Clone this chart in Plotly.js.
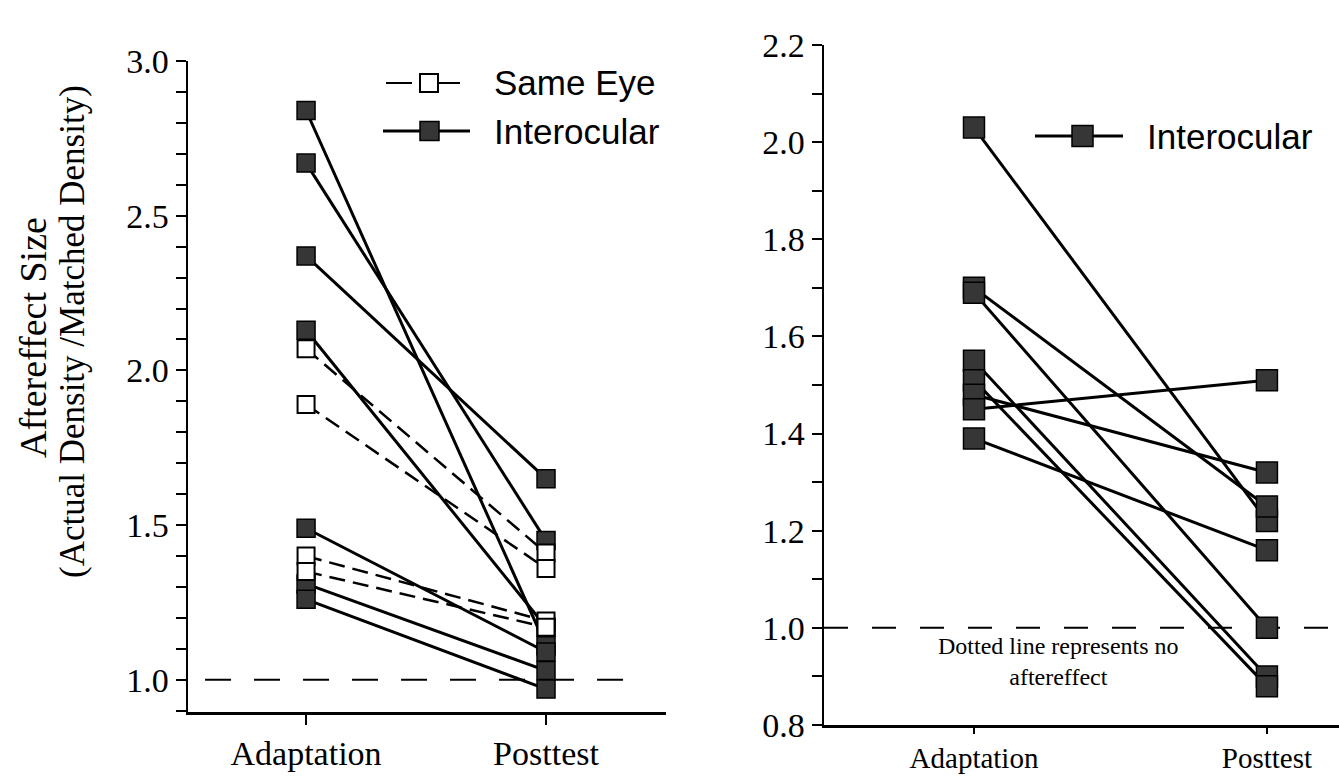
<!DOCTYPE html>
<html>
<head>
<meta charset="utf-8">
<script src="https://cdn.plot.ly/plotly-3.0.1.min.js"></script>
<style>html,body{margin:0;padding:0;background:#fff;}#chart{width:1339px;height:776px;}</style>
</head>
<body>
<div id="chart"></div>
<script>
// ---- data ----
const categories = ['Adaptation', 'Posttest'];
const leftInterAdapt = [2.84, 2.67, 2.37, 2.13, 1.49, 1.31, 1.26];
const leftInterPost  = [1.11, 1.45, 1.65, 1.17, 1.09, 1.03, 0.97];
const leftSameAdapt  = [2.07, 1.89, 1.40, 1.35];
const leftSamePost   = [1.41, 1.36, 1.19, 1.17];
const rightInterAdapt = [2.03, 1.70, 1.69, 1.55, 1.51, 1.48, 1.45, 1.39];
const rightInterPost  = [1.22, 1.25, 1.00, 0.90, 0.88, 1.32, 1.51, 1.16];
const legendNames = ['Same Eye', 'Interocular'];
const yTitleLines = ['Aftereffect Size', '(Actual Density /Matched Density)'];
const noteText = 'Dotted line represents no<br>aftereffect';
const noEffect = 1.0;

// ---- helpers ----
const W = 1339, H = 776;
const px = v => v / W;
const py = v => 1 - v / H;
const FILL = '#363636';
const SERIF = 'Liberation Serif, Times New Roman, serif';
const SANS = 'Liberation Sans, Arial, sans-serif';

function segments(a, p) {
  const x = [], y = [];
  a.forEach((v, i) => { x.push(categories[0], categories[1], null); y.push(v, p[i], null); });
  return {x, y};
}
function points(a, p) {
  return {x: a.map(() => categories[0]).concat(p.map(() => categories[1])), y: a.concat(p)};
}

const liS = segments(leftInterAdapt, leftInterPost);
const lsS = segments(leftSameAdapt, leftSamePost);
const riS = segments(rightInterAdapt, rightInterPost);
const liP = points(leftInterAdapt, leftInterPost);
const lsP = points(leftSameAdapt, leftSamePost);
const riP = points(rightInterAdapt, rightInterPost);

const traces = [
  {x: liS.x, y: liS.y, mode: 'lines', line: {color: '#000', width: 3}, connectgaps: false, xaxis: 'x', yaxis: 'y', showlegend: false, hoverinfo: 'skip'},
  {x: lsS.x, y: lsS.y, mode: 'lines', line: {color: '#000', width: 2.5, dash: '16px,8px'}, connectgaps: false, xaxis: 'x', yaxis: 'y', showlegend: false, hoverinfo: 'skip'},
  {x: liP.x, y: liP.y, mode: 'markers', marker: {symbol: 'square', size: 18, color: FILL, line: {color: '#000', width: 1.5}}, xaxis: 'x', yaxis: 'y', showlegend: false, name: legendNames[1]},
  {x: lsP.x, y: lsP.y, mode: 'markers', marker: {symbol: 'square', size: 17, color: '#fff', line: {color: '#000', width: 2}}, xaxis: 'x', yaxis: 'y', showlegend: false, name: legendNames[0]},
  {x: riS.x, y: riS.y, mode: 'lines', line: {color: '#000', width: 3}, connectgaps: false, xaxis: 'x2', yaxis: 'y2', showlegend: false, hoverinfo: 'skip'},
  {x: riP.x, y: riP.y, mode: 'markers', marker: {symbol: 'square', size: 21, color: FILL, line: {color: '#000', width: 1.5}}, xaxis: 'x2', yaxis: 'y2', showlegend: false, name: legendNames[1]}
];

const tickFont = {family: SERIF, size: 34, color: '#000'};
const baseX = {
  type: 'category', categoryorder: 'array', categoryarray: categories,
  showline: true, linecolor: '#000', linewidth: 2.5, showgrid: false, zeroline: false,
  ticks: 'outside', ticklen: 10, tickwidth: 2, tickcolor: '#000', tickfont: tickFont, fixedrange: true
};
const baseY = {
  showline: true, linecolor: '#000', linewidth: 2.5, showgrid: false, zeroline: false,
  ticks: 'outside', ticklen: 10, tickwidth: 2, tickcolor: '#000', tickfont: tickFont,
  tickformat: '.1f', fixedrange: true
};

const layout = {
  width: W, height: H, autosize: false,
  margin: {l: 0, r: 0, t: 0, b: 0, pad: 0},
  paper_bgcolor: '#fff', plot_bgcolor: 'rgba(0,0,0,0)',
  showlegend: false,
  xaxis: Object.assign({}, baseX, {domain: [px(188), px(666)], range: [-0.492, 1.5], anchor: 'y'}),
  yaxis: Object.assign({}, baseY, {domain: [py(712), py(61)], range: [0.896, 3.0], tick0: 1.0, dtick: 0.5, anchor: 'x',
    minor: {dtick: 0.1, tick0: 1.0, ticks: 'outside', ticklen: 10, tickwidth: 2, tickcolor: '#000', showgrid: false}}),
  xaxis2: Object.assign({}, baseX, {domain: [px(824), 1], range: [-0.512, 1.246], anchor: 'y2', ticklen: 6,
    tickfont: {family: SERIF, size: 29, color: '#000'}}),
  yaxis2: Object.assign({}, baseY, {domain: [py(725), py(45)], range: [0.8, 2.2], tick0: 0.8, dtick: 0.2, anchor: 'x2',
    minor: {dtick: 0.1, tick0: 0.8, ticks: 'outside', ticklen: 10, tickwidth: 2, tickcolor: '#000', showgrid: false}}),
  shapes: [
    // reference lines at "no aftereffect"
    {type: 'line', xref: 'x', yref: 'y', x0: -0.421, x1: 1.408, y0: noEffect, y1: noEffect, layer: 'below', line: {color: '#000', width: 2, dash: '26px,23px'}},
    {type: 'line', xref: 'x2', yref: 'y2', x0: -0.512, x1: 1.246, y0: noEffect, y1: noEffect, layer: 'below', line: {color: '#000', width: 2, dash: '24px,24px'}},
    // left legend: Same Eye
    {type: 'line', xref: 'paper', yref: 'paper', x0: px(386), x1: px(412), y0: py(83), y1: py(83), line: {color: '#000', width: 2}},
    {type: 'line', xref: 'paper', yref: 'paper', x0: px(438), x1: px(460), y0: py(83), y1: py(83), line: {color: '#000', width: 2}},
    {type: 'rect', xref: 'paper', yref: 'paper', x0: px(420), x1: px(438), y0: py(92), y1: py(74), fillcolor: '#fff', line: {color: '#000', width: 2}},
    // left legend: Interocular
    {type: 'line', xref: 'paper', yref: 'paper', x0: px(383), x1: px(470), y0: py(131), y1: py(131), line: {color: '#000', width: 3}},
    {type: 'rect', xref: 'paper', yref: 'paper', x0: px(420), x1: px(439), y0: py(140.5), y1: py(121.5), fillcolor: FILL, line: {color: '#000', width: 1.5}},
    // right legend: Interocular
    {type: 'line', xref: 'paper', yref: 'paper', x0: px(1035), x1: px(1123), y0: py(136), y1: py(136), line: {color: '#000', width: 3}},
    {type: 'rect', xref: 'paper', yref: 'paper', x0: px(1072), x1: px(1093), y0: py(146.5), y1: py(125.5), fillcolor: FILL, line: {color: '#000', width: 1.5}}
  ],
  annotations: [
    {xref: 'paper', yref: 'paper', x: px(492), y: py(83), xanchor: 'left', yanchor: 'middle', text: legendNames[0], showarrow: false, font: {family: SANS, size: 35, color: '#000'}},
    {xref: 'paper', yref: 'paper', x: px(492), y: py(131), xanchor: 'left', yanchor: 'middle', text: legendNames[1], showarrow: false, font: {family: SANS, size: 35, color: '#000'}},
    {xref: 'paper', yref: 'paper', x: px(1145), y: py(136), xanchor: 'left', yanchor: 'middle', text: legendNames[1], showarrow: false, font: {family: SANS, size: 35, color: '#000'}},
    {xref: 'paper', yref: 'paper', x: px(33), y: py(338), xanchor: 'center', yanchor: 'middle', textangle: -90, text: yTitleLines[0], showarrow: false, font: {family: SERIF, size: 38, color: '#000'}},
    {xref: 'paper', yref: 'paper', x: px(72), y: py(332), xanchor: 'center', yanchor: 'middle', textangle: -90, text: yTitleLines[1], showarrow: false, font: {family: SERIF, size: 35, color: '#000'}},
    {xref: 'paper', yref: 'paper', x: px(1058), y: py(661), xanchor: 'center', yanchor: 'middle', text: noteText, showarrow: false, align: 'center', font: {family: SERIF, size: 24, color: '#000'}}
  ]
};

Plotly.newPlot('chart', traces, layout, {displayModeBar: false, staticPlot: true});
</script>
</body>
</html>
